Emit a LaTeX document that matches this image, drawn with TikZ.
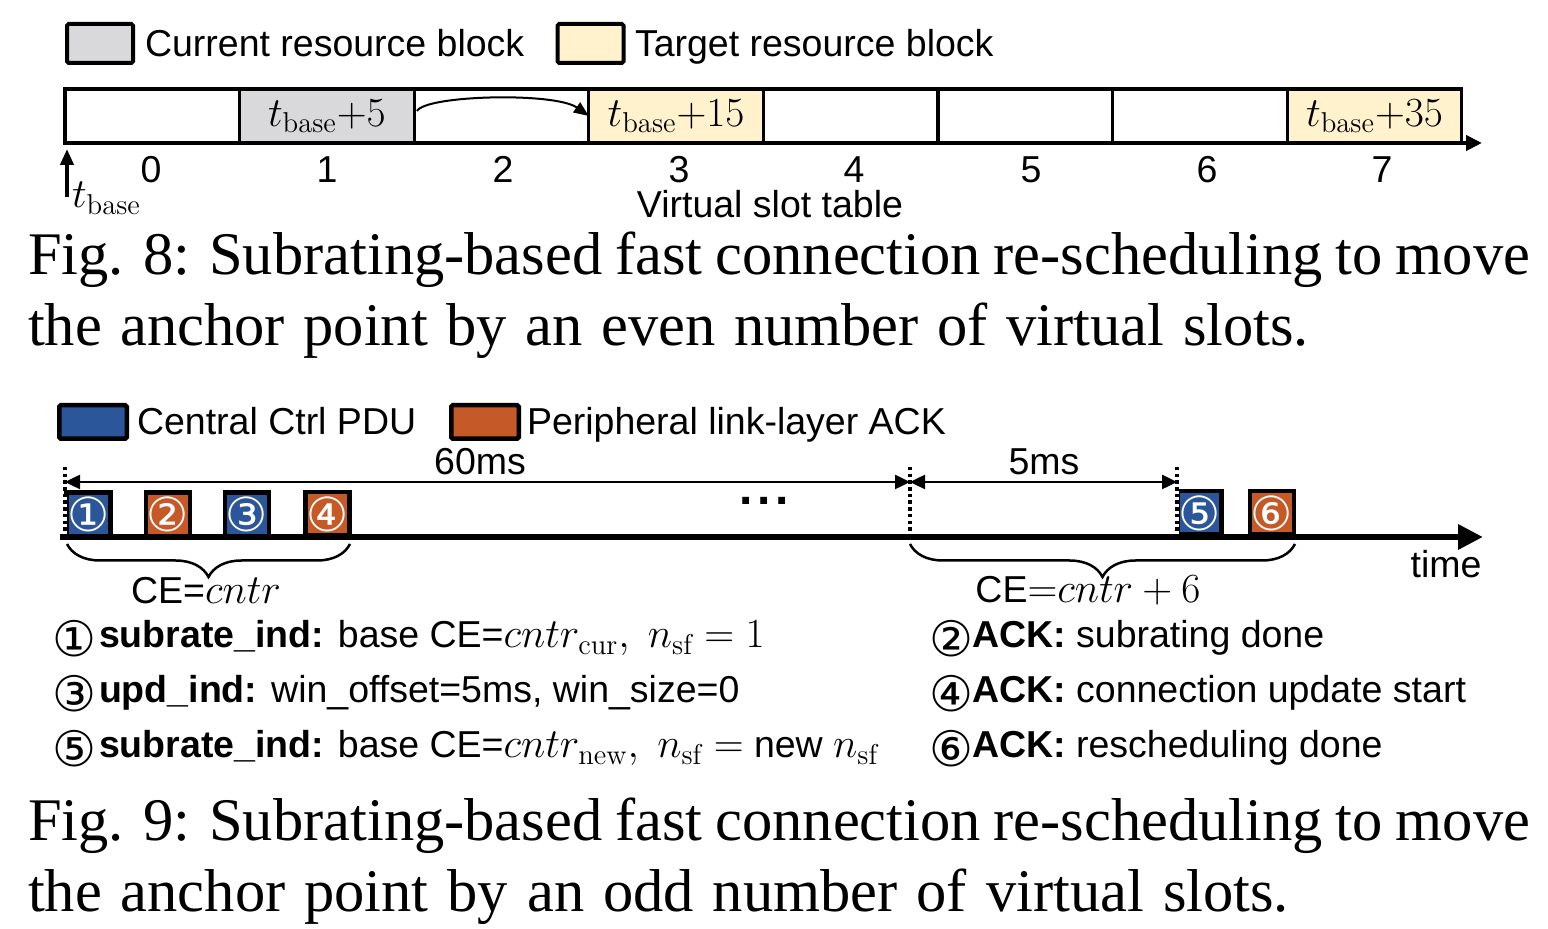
\documentclass[tikz,border=0pt]{standalone}
\usepackage{fontspec}
\newfontfamily\arial{Liberation Sans}
\newfontfamily\tnr{Liberation Serif}
\newfontfamily\dvs{DejaVu Sans}
\usetikzlibrary{arrows.meta,decorations.pathreplacing,calc}
\definecolor{cgrey}{RGB}{217,217,220}
\definecolor{cyel}{RGB}{255,242,204}
\definecolor{cblue}{RGB}{43,87,154}
\definecolor{corange}{RGB}{197,90,40}
\newcommand\sz{\fontsize{18.75}{22}\selectfont}
\newcommand\csz{\fontsize{30.25}{35}\selectfont}
\newcommand\mth[1]{{\fontsize{20.5}{24}\selectfont$#1$}}
\begin{document}
\begin{tikzpicture}[x=0.5pt,y=-0.5pt,
  every node/.style={inner sep=0pt, outer sep=0pt, font=\arial\sz},
  lab/.style={anchor=base west},
  num/.style={anchor=base},
  circlab/.style={font=\dvs\fontsize{24.5}{26}\selectfont},
  legbox/.style={draw, line width=2pt, rounded corners=0.8pt, minimum width=33pt, minimum height=19.5pt},
  legbox9/.style={draw, line width=2.25pt, rounded corners=0.8pt, minimum width=33.75pt, minimum height=16.75pt},
  slotbox/.style={draw, line width=1.6pt, minimum width=87.3pt, minimum height=27pt},
  pdu/.style={draw, line width=2.25pt, minimum width=22pt, minimum height=21.75pt, text=white, font=\dvs\fontsize{23.5}{24}\selectfont},
  dotline/.style={line width=2pt, dash pattern=on 1.75pt off 1.6pt},
  dim/.style={line width=1.25pt, {Triangle[length=7.5pt,width=7pt]}-{Triangle[length=7.5pt,width=7pt]}},
  brc/.style={line width=1.25pt, decorate, decoration={brace, amplitude=16.5pt}},
  captext/.style={anchor=base west, font=\tnr\csz}
]
\useasboundingbox (0,0) rectangle (1548,929);

% ---------- Fig. 8 ----------
\node[legbox, fill=cgrey] (lg1) at (100,43.5) {};
\node[lab] (lt1) at (145,57) {Current resource block};
\node[legbox, fill=cyel] (lg2) at (590.5,43.5) {};
\node[lab] (lt2) at (635,57) {Target resource block};

\node[slotbox] (s0) at (152.3,116) {};
\node[slotbox, fill=cgrey] (s1) at (326.9,116) {\mth{t_{\mathrm{base}}{+}5}};
\node[slotbox] (s2) at (501.5,116) {};
\node[slotbox, fill=cyel] (s3) at (676.1,116) {\mth{t_{\mathrm{base}}{+}15}};
\node[slotbox] (s4) at (850.7,116) {};
\node[slotbox] (s5) at (1025.3,116) {};
\node[slotbox] (s6) at (1199.9,116) {};
\node[slotbox, fill=cyel] (s7) at (1374.5,116) {\mth{t_{\mathrm{base}}{+}35}};

\coordinate (axend) at (1482,143);
\draw[line width=2pt, -{Triangle[length=8pt,width=7.5pt]}] (s0.south west) -- (axend);

\coordinate (cstart) at (417,111);
\draw[line width=1pt, -{Triangle[length=7.5pt,width=6pt]}] (cstart) .. controls (426,95) and (555,92) .. (s3.west);

\node[num] (n0) at (151,183) {0};
\node[num] (n1) at (327,183) {1};
\node[num] (n2) at (503,183) {2};
\node[num] (n3) at (679,183) {3};
\node[num] (n4) at (854,183) {4};
\node[num] (n5) at (1031,183) {5};
\node[num] (n6) at (1207,183) {6};
\node[num] (n7) at (1382,183) {7};

\coordinate (upstart) at (67,197);
\coordinate (uptip) at (67,149);
\draw[line width=2pt, -{Triangle[length=8pt,width=6.5pt]}] (upstart) -- (uptip);
\node[lab] (tb) at (72,208) {\mth{t_{\mathrm{base}}}};
\node[num] (vst) at (770,218) {Virtual slot table};

\node[captext] (c8a) at (28,275) {\makebox[751pt][s]{Fig. 8: Subrating-based fast connection re-scheduling to move}};
\node[captext] (c8b) at (28,346) {\makebox[640.5pt][s]{the anchor point by an even number of virtual slots.}};

% ---------- Fig. 9 ----------
\node[legbox9, fill=cblue] (lg3) at (93,422) {};
\node[lab] (lt3) at (137,435) {Central Ctrl PDU};
\node[legbox9, fill=corange] (lg4) at (485,422) {};
\node[lab] (lt4) at (527,435) {Peripheral link-layer ACK};

\node[pdu, fill=cblue] (b1) at (88.5,514.5) {①};
\node[pdu, fill=corange] (b2) at (168,514.5) {②};
\node[pdu, fill=cblue] (b3) at (247,514.5) {③};
\node[pdu, fill=corange] (b4) at (327.5,514) {④};
\node[pdu, fill=cblue] (b5) at (1199.5,513) {⑤};
\node[pdu, fill=corange] (b6) at (1272,513) {⑥};

\coordinate (tl0) at (60,537);
\coordinate (tl1) at (1483,537);
\draw[line width=3.3pt, -{Triangle[length=12.5pt,width=12pt]}] (tl0) -- (tl1);

\coordinate (v0t) at (65,467); \coordinate (v0b) at (65,537);
\coordinate (v1t) at (910,467); \coordinate (v1b) at (910,537);
\coordinate (v2t) at (1177,467); \coordinate (v2b) at (1177,537);
\draw[line width=2pt, white] (65,494) -- (v0b);
\draw[line width=2pt, white] (1177,491) -- (v2b);
\draw[dotline] (v0t) -- (v0b);
\draw[dotline] (v1t) -- (v1b);
\draw[dotline] (v2t) -- (v2b);

\coordinate (d0) at (65,482); \coordinate (d1) at (910,482); \coordinate (d2) at (1177,482);
\draw[dim] (d0) -- (d1);
\draw[dim] (d1) -- (d2);
\node (t60) at (480,462) {60ms};
\node (t5) at (1044,462) {5ms};
\node (dots) at (764,501) {\fontsize{24}{26}\selectfont\bfseries .\hspace{2.2pt}.\hspace{2.2pt}.};

\coordinate (br1a) at (350,544); \coordinate (br1b) at (67,544);
\coordinate (br2a) at (1295,544); \coordinate (br2b) at (910,544);
\draw[brc] (br1a) -- (br1b);
\draw[brc] (br2a) -- (br2b);
\node (ce1) at (206,591) {CE=\mth{cntr}};
\node (ce2) at (1088,590) {CE\mth{{=}cntr+6}};
\node (time) at (1446,564) {time};

\node[circlab] (k1) at (74,639) {①};
\node[circlab] (k3) at (74,694) {③};
\node[circlab] (k5) at (74,749) {⑤};
\node[circlab] (k2) at (951.5,639) {②};
\node[circlab] (k4) at (951.5,694) {④};
\node[circlab] (k6) at (951.5,749) {⑥};
\node[lab] (r1) at (99,648) {\textbf{subrate\_ind:} base CE=\mth{cntr_{\mathrm{cur}},\ n_{\mathrm{sf}}=1}};
\node[lab] (r3) at (99,703) {\textbf{upd\_ind:} win\_offset=5ms, win\_size=0};
\node[lab] (r5) at (99,758) {\textbf{subrate\_ind:} base CE=\mth{cntr_{\mathrm{new}},\ n_{\mathrm{sf}}=} new \mth{n_{\mathrm{sf}}}};
\node[lab] (r2) at (972,648) {\textbf{ACK:} subrating done};
\node[lab] (r4) at (972,703) {\textbf{ACK:} connection update start};
\node[lab] (r6) at (972,758) {\textbf{ACK:} rescheduling done};

\node[captext] (c9a) at (28,841) {\makebox[751pt][s]{Fig. 9: Subrating-based fast connection re-scheduling to move}};
\node[captext] (c9b) at (28,912) {\makebox[630.5pt][s]{the anchor point by an odd number of virtual slots.}};
\end{tikzpicture}
\end{document}
